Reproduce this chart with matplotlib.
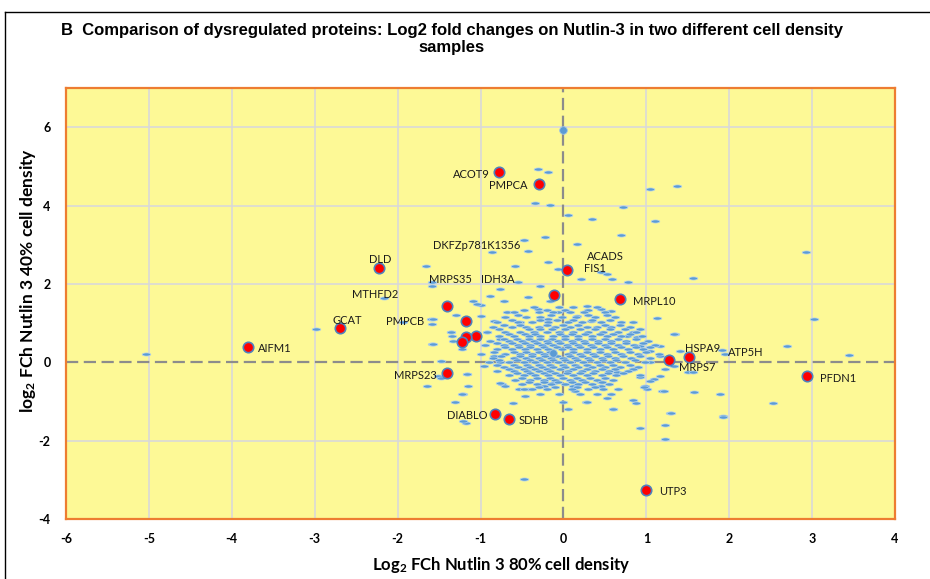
import numpy as np
import matplotlib
matplotlib.use("Agg")
import matplotlib.pyplot as plt
from matplotlib.path import Path
from matplotlib.lines import Line2D

plt.rcParams['mathtext.default'] = 'regular'

# highlighted proteins (x = 80% density, y = 40% density)
hit_x = [-3.80, -2.70, -2.23, -0.78, -0.30, 0.04, -0.11, 0.68, -1.40, -1.17,
         -1.05, -1.18, -1.22, -1.40, -0.82, -0.66, 1.00, 1.27, 1.51, 2.94]
hit_y = [0.38, 0.87, 2.40, 4.86, 4.55, 2.35, 1.71, 1.61, 1.43, 1.05,
         0.66, 0.64, 0.51, -0.28, -1.33, -1.46, -3.27, 0.05, 0.13, -0.36]

# gene labels and where they sit
label_names = ['ACOT9', 'PMPCA', 'DKFZp781K1356', 'ACADS', 'FIS1', 'IDH3A', 'MRPS35',
               'MTHFD2', 'DLD', 'GCAT', 'PMPCB', 'AIFM1', 'MRPS23', 'DIABLO', 'SDHB',
               'MRPL10', 'HSPA9', 'MRPS7', 'ATP5H', 'PFDN1', 'UTP3']
label_x = [-0.89, -0.43, -1.57, 0.28, 0.25, -1.00, -1.62, -2.55, -2.35, -2.79, -2.14,
           -3.68, -2.04, -1.40, -0.54, 0.84, 1.47, 1.39, 1.98, 3.10, 1.15]
label_y = [4.78, 4.50, 2.97, 2.69, 2.40, 2.12, 2.10, 1.74, 2.63, 1.07, 1.05,
           0.36, -0.33, -1.36, -1.48, 1.56, 0.36, -0.13, 0.26, -0.41, -3.30]
label_ha = ['right', 'right'] + ['left'] * 19

# larger blue points
big_x = [0.00, -0.13]
big_y = [5.93, 0.23]

# all other proteins, scattered points
other_pts = [
    (-5.03, 0.20), (-2.98, 0.84), (-2.17, 1.64), (-1.66, 2.46), (-1.58, 2.05), (-1.59, 1.94),
    (-1.09, 1.56), (-1.00, 1.46), (-1.29, 1.20), (-1.60, 1.10), (-1.59, 0.97), (-1.93, 1.02),
    (-1.36, 0.77), (-1.34, 0.66), (-1.33, 0.54), (-1.58, 0.46), (-1.48, 0.03), (-1.51, -0.36),
    (-1.48, -0.41), (-1.64, -0.61), (-1.16, -0.31), (-1.15, -0.61), (-1.21, -0.82), (-0.96, -0.10),
    (-0.86, 2.81), (-1.22, -0.82), (-1.31, -1.02), (-1.18, -1.54), (-1.21, -1.50), (-0.74, -0.56),
    (-0.70, -0.61), (-0.61, -1.05), (-0.54, -0.69), (-0.43, -0.67), (-0.46, -0.87), (-0.12, -0.54),
    (-0.01, -1.02), (0.06, -1.18), (0.14, -0.74), (0.27, -1.02), (0.45, -0.61), (0.57, -0.82),
    (0.60, -1.18), (0.66, -0.69), (0.84, -0.97), (0.87, -1.05), (0.93, -1.69), (0.99, -0.61),
    (1.19, -0.74), (1.23, -1.61), (1.29, -1.30), (-0.47, -2.99),
    (1.56, 2.15), (1.13, 1.12), (1.35, 0.72), (1.91, 0.31), (1.57, -0.77), (1.92, -1.38),
    (1.01, -0.67), (1.17, -0.36), (1.33, -0.10), (1.17, 0.15), (0.93, 0.41),
    (-0.48, 3.12), (0.17, 3.02), (-0.43, 2.84), (-0.19, 2.56), (-0.58, 2.46), (-0.07, 2.38),
    (0.45, 2.30), (0.53, 2.25), (0.59, 2.12), (0.78, 2.05), (0.21, 2.12), (-0.28, 1.94),
    (-0.55, 2.05), (-0.76, 1.87), (-0.88, 1.69), (-0.72, 1.56), (-0.43, 1.66), (-0.16, 1.56),
    (0.45, 1.36), (0.57, 1.30), (0.29, 1.43), (0.17, 1.18), (0.33, 1.05), (0.84, 1.02),
    (0.93, 0.84), (0.77, 0.66), (-1.04, 1.48), (-1.00, 1.18), (-0.84, 1.05), (-0.68, 1.28),
    (-0.52, 1.02), (-0.31, 1.36), (-0.19, 1.10), (-0.07, 1.28), (-0.92, 0.77), (-0.76, 0.59),
    (-1.57, 1.10), (-1.36, 0.77), (-1.57, 0.46), (-1.22, 0.33), (-0.84, 0.15), (-0.76, 0.00),
    (-0.64, -0.18), (-0.76, -0.54), (-1.16, -0.31), (-0.48, -0.69), (-0.24, -0.61), (0.12, -0.61),
    (0.45, -0.51), (0.65, -0.26), (0.84, -0.18), (0.29, -1.02), (0.53, -0.90),
    (-0.31, 4.94), (-0.18, 4.86), (-0.34, 4.07), (-0.16, 4.02), (0.06, 3.76), (1.05, 4.42),
    (1.37, 4.50), (0.72, 3.96), (0.35, 3.66), (1.11, 3.61), (0.69, 3.25), (-0.22, 3.20),
    (2.93, 2.81), (3.02, 1.10), (3.44, 0.18), (2.53, -1.05), (1.89, -0.82), (1.22, -1.97),
    (1.34, 0.72), (2.70, 0.41), (1.95, 0.20), (1.93, -1.39), (1.21, -0.74), (1.30, -1.30),
    (1.09, -0.43), (1.17, 0.41), (1.23, -0.18), (1.50, -0.26), (1.41, 0.28), (1.56, -0.26),
    (0.97, -0.64), (0.60, -1.18), (0.84, 0.77), (0.89, 0.64), (1.05, 0.28), (1.05, 0.00),
    (1.05, -0.49), (0.93, -0.38),
]

# dense core, read row by row (y level: x positions)
core_rows = {
    1.40: [-0.35, -0.05, 0.12, 0.40],
    1.34: [-0.48, -0.20, 0.02, 0.30],
    1.28: [-0.60, -0.30, -0.12, 0.08, 0.25, 0.50],
    1.21: [-0.55, -0.15, 0.30, 0.52],
    1.15: [-0.70, -0.45, -0.28, -0.02, 0.15, 0.38, 0.62],
    1.08: [-0.62, -0.28, -0.08, 0.12, 0.34, 0.56],
    1.02: [-0.80, -0.55, -0.38, -0.18, 0.05, 0.22, 0.45, 0.70],
    0.96: [-0.72, -0.52, -0.20, 0.00, 0.18, 0.50, 0.68],
    0.90: [-0.85, -0.62, -0.45, -0.30, -0.10, 0.08, 0.28, 0.40, 0.58, 0.80],
    0.84: [-0.78, -0.42, -0.28, -0.14, 0.02, 0.20, 0.38, 0.56, 0.74],
    0.78: [-0.92, -0.70, -0.52, -0.36, -0.20, -0.05, 0.12, 0.30, 0.48, 0.66, 0.88],
    0.72: [-0.66, -0.46, -0.34, -0.04, 0.10, 0.26, 0.44, 0.60, 0.80],
    0.66: [-0.78, -0.60, -0.42, -0.28, -0.12, 0.02, 0.18, 0.35, 0.52, 0.70, 0.95],
    0.60: [-0.72, -0.56, -0.42, -0.28, -0.14, 0.02, 0.18, 0.34, 0.50, 0.66, 0.88],
    0.55: [-0.88, -0.66, -0.50, -0.35, -0.20, -0.06, 0.10, 0.25, 0.42, 0.58, 0.76, 1.02],
    0.49: [-0.80, -0.62, -0.46, -0.32, -0.18, -0.04, 0.12, 0.26, 0.42, 0.58, 0.76, 0.96],
    0.44: [-0.95, -0.72, -0.55, -0.40, -0.26, -0.12, 0.04, 0.18, 0.33, 0.50, 0.66, 0.85, 1.10],
    0.38: [-0.70, -0.54, -0.40, -0.24, -0.08, 0.06, 0.20, 0.36, 0.52, 0.70, 0.88, 1.05],
    0.33: [-0.80, -0.62, -0.46, -0.32, -0.18, -0.02, 0.12, 0.28, 0.44, 0.60, 0.78, 0.96],
    0.27: [-0.84, -0.60, -0.45, -0.30, -0.16, 0.12, 0.28, 0.44, 0.62, 0.80, 1.00],
    0.22: [-1.00, -0.70, -0.52, -0.38, -0.24, 0.05, 0.20, 0.36, 0.52, 0.70, 0.90, 1.15],
    0.16: [-0.75, -0.52, -0.38, -0.22, -0.08, 0.08, 0.22, 0.38, 0.54, 0.72, 0.92],
    0.11: [-0.85, -0.60, -0.45, -0.30, -0.15, 0.00, 0.14, 0.30, 0.46, 0.62, 0.82, 1.05],
    0.05: [-0.78, -0.56, -0.40, -0.26, -0.12, 0.02, 0.16, 0.32, 0.48, 0.64, 0.86],
    0.00: [-0.90, -0.66, -0.48, -0.34, -0.20, -0.06, 0.08, 0.24, 0.40, 0.56, 0.74, 0.98],
    -0.06: [-0.80, -0.60, -0.44, -0.30, -0.16, 0.00, 0.14, 0.28, 0.44, 0.60, 0.80],
    -0.11: [-0.72, -0.55, -0.40, -0.26, -0.12, 0.02, 0.18, 0.34, 0.50, 0.68, 0.90],
    -0.17: [-0.66, -0.48, -0.34, -0.20, -0.04, 0.12, 0.28, 0.46, 0.62, 0.84],
    -0.22: [-0.80, -0.60, -0.44, -0.30, -0.16, 0.06, 0.22, 0.38, 0.55, 0.78],
    -0.28: [-0.56, -0.40, -0.24, -0.10, 0.04, 0.20, 0.36, 0.54, 0.72],
    -0.33: [-0.66, -0.48, -0.34, -0.18, -0.04, 0.12, 0.28, 0.46, 0.64, 0.92],
    -0.39: [-0.50, -0.32, -0.16, 0.00, 0.16, 0.32, 0.50],
    -0.44: [-0.58, -0.40, -0.24, -0.10, 0.08, 0.22, 0.40, 0.60],
    -0.50: [-0.42, -0.24, -0.06, 0.10, 0.26, 0.46],
    -0.55: [-0.50, -0.32, -0.15, 0.02, 0.18, 0.35, 0.55],
    -0.62: [-0.30, -0.10, 0.16, 0.38],
    -0.68: [-0.38, -0.20, 0.10, 0.30, 0.48],
    -0.80: [-0.28, -0.05, 0.20, 0.40],
}

x_ticks = [-6, -5, -4, -3, -2, -1, 0, 1, 2, 3, 4]
y_ticks = [-4, -2, 0, 2, 4, 6]

# --- build arrays
bg_x = [p[0] for p in other_pts]
bg_y = [p[1] for p in other_pts]
for yy, xs in core_rows.items():
    bg_x += xs
    bg_y += [yy] * len(xs)

# flat ellipse marker (points look like little dashes)
circ = Path.unit_circle()
dash_marker = Path(circ.vertices * np.array([1.0, 0.36]), circ.codes)

fig = plt.figure(figsize=(9.3, 5.79), dpi=100)
ax = fig.add_axes([66 / 930, 1 - 519 / 579, (895 - 66) / 930, (519 - 88) / 579])
ax.set_facecolor('#FDF996')
ax.set_xlim(-6, 4)
ax.set_ylim(-4, 7)

for x in x_ticks:
    if x != 0:
        ax.axvline(x, color='#D9D9D9', lw=1.2, zorder=0)
for y in [-2, 2, 4, 6]:
    ax.axhline(y, color='#D9D9D9', lw=1.2, zorder=0)
ax.axvline(0, color='#8C8C8C', lw=1.6, dashes=(5.5, 2.5), zorder=1)
ax.axhline(0, color='#8C8C8C', lw=1.6, dashes=(5.5, 2.5), zorder=1)

ax.plot(bg_x, bg_y, ls='none', marker=dash_marker, ms=6.2, mfc='#5B9BD5',
        mec='#B4D3EE', mew=0.5, zorder=2)
ax.plot(big_x, big_y, ls='none', marker='o', ms=5.5, mfc='#5B9BD5', mec='#9DC3E6',
        mew=0.6, zorder=3)
ax.plot(hit_x, hit_y, ls='none', marker='o', ms=7.5, mfc='#FF0000', mec='#4F81BD',
        mew=1.2, zorder=4)

for name, lx, ly, ha in zip(label_names, label_x, label_y, label_ha):
    ax.text(lx, ly, name, ha=ha, va='center', fontsize=8, family='Lato',
            color='#1A1A1A', zorder=5)

for side in ax.spines.values():
    side.set_color('#ED7D31')
    side.set_linewidth(1.6)

ax.set_xticks(x_ticks)
ax.set_yticks(y_ticks)
ax.set_xticklabels([str(v) for v in x_ticks])
ax.set_yticklabels([str(v) for v in y_ticks])
ax.tick_params(length=0, labelsize=9)
ax.tick_params(axis='x', pad=10)
ax.tick_params(axis='y', pad=11)
for t in ax.get_xticklabels() + ax.get_yticklabels():
    t.set_family('Lato')
    t.set_fontweight('bold')

fig.text(501 / 930, 1 - 565 / 579, 'Log$_2$ FCh Nutlin 3 80% cell density', ha='center',
         va='center', fontsize=12, family='Lato', fontweight='bold')
fig.text(28 / 930, 1 - 280 / 579, 'log$_2$ FCh Nutlin 3 40% cell density', ha='center',
         va='center', rotation=90, fontsize=12.5, family='Lato', fontweight='bold')

fig.text(452 / 930, 1 - 39 / 579,
         'B  Comparison of dysregulated proteins: Log2 fold changes on Nutlin-3 in two different cell density\nsamples',
         ha='center', va='center', fontsize=12, family='Liberation Sans', fontweight='bold',
         multialignment='center', linespacing=1.1)

# outer frame of the panel
fig.add_artist(Line2D([5 / 930, 5 / 930], [0, 1 - 12 / 579], color='black', lw=1.0))
fig.add_artist(Line2D([5 / 930, 1], [1 - 12 / 579, 1 - 12 / 579], color='black', lw=1.0))

fig.savefig('out.png', dpi=100)
